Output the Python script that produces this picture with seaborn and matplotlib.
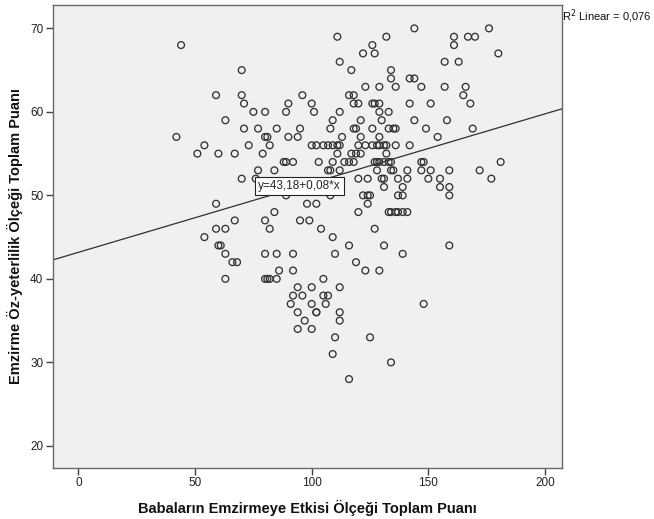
import matplotlib
matplotlib.use("Agg")
import matplotlib.pyplot as plt
import seaborn as sns
import numpy as np
import pandas as pd

# Babaların Emzirmeye Etkisi Ölçeği Toplam Puanı (x) and Emzirme Öz-yeterlilik Ölçeği Toplam Puanı (y)
baba_puani = [
    144, 176,
    111, 132, 161, 167, 170,
    44, 126, 161,
    122, 127, 180,
    112, 157, 163,
    70, 117, 134,
    134, 142, 144,
    123, 129, 136, 147, 157, 166,
    59, 70, 96, 116, 118, 165,
    71, 90, 100, 118, 120, 126, 127, 129, 142, 151, 168,
    75, 80, 89, 101, 112, 129, 133,
    63, 109, 121, 130, 144, 158,
    71, 77, 85, 95, 108, 118, 119, 126, 133, 135, 136, 149, 169,
    42, 80, 81, 90, 94, 113, 121, 129, 154,
    54, 73, 82, 100, 102, 105, 107, 109, 111, 112, 120, 123, 126, 128, 129, 131, 132, 136, 142,
    51, 60, 67, 79, 111, 117, 119, 121, 132,
    88, 89, 92, 103, 109, 114, 116, 118, 127, 128, 129, 131, 133, 134, 147, 148, 181,
    77, 84, 107, 108, 112, 128, 134, 135, 141, 147, 151, 159, 172,
    70, 76, 120, 124, 130, 131, 137, 141, 150, 155, 177,
    131, 139, 155, 159,
    89, 108, 122, 124, 125, 137, 139, 159,
    59, 98, 102, 124,
    84, 120, 133, 134, 136, 137, 139, 141,
    67, 80, 95, 99,
    59, 63, 82, 104, 127,
    54, 109,
    60, 61, 116, 131, 159,
    63, 80, 85, 92, 110, 139,
    66, 68, 119,
    86, 92, 123, 129,
    63, 80, 81, 82, 85, 105,
    94, 100, 112,
    92, 96, 105, 107,
    91, 100, 106, 148,
    94, 102, 102, 112,
    97, 112,
    94, 100,
    110, 125,
    109,
    134,
    116,
]
emzirme_puani = [
    70, 70,
    69, 69, 69, 69, 69,
    68, 68, 68,
    67, 67, 67,
    66, 66, 66,
    65, 65, 65,
    64, 64, 64,
    63, 63, 63, 63, 63, 63,
    62, 62, 62, 62, 62, 62,
    61, 61, 61, 61, 61, 61, 61, 61, 61, 61, 61,
    60, 60, 60, 60, 60, 60, 60,
    59, 59, 59, 59, 59, 59,
    58, 58, 58, 58, 58, 58, 58, 58, 58, 58, 58, 58, 58,
    57, 57, 57, 57, 57, 57, 57, 57, 57,
    56, 56, 56, 56, 56, 56, 56, 56, 56, 56, 56, 56, 56, 56, 56, 56, 56, 56, 56,
    55, 55, 55, 55, 55, 55, 55, 55, 55,
    54, 54, 54, 54, 54, 54, 54, 54, 54, 54, 54, 54, 54, 54, 54, 54, 54,
    53, 53, 53, 53, 53, 53, 53, 53, 53, 53, 53, 53, 53,
    52, 52, 52, 52, 52, 52, 52, 52, 52, 52, 52,
    51, 51, 51, 51,
    50, 50, 50, 50, 50, 50, 50, 50,
    49, 49, 49, 49,
    48, 48, 48, 48, 48, 48, 48, 48,
    47, 47, 47, 47,
    46, 46, 46, 46, 46,
    45, 45,
    44, 44, 44, 44, 44,
    43, 43, 43, 43, 43, 43,
    42, 42, 42,
    41, 41, 41, 41,
    40, 40, 40, 40, 40, 40,
    39, 39, 39,
    38, 38, 38, 38,
    37, 37, 37, 37,
    36, 36, 36, 36,
    35, 35,
    34, 34,
    33, 33,
    31,
    30,
    28,
]

fit_intercept = 43.18
fit_slope = 0.0829
r2_text = "R$^2$ Linear = 0,076"
equation_text = "y=43,18+0,08*x"
x_ticks = [0, 50, 100, 150, 200]
y_ticks = [20, 30, 40, 50, 60, 70]
x_label = "Babaların Emzirmeye Etkisi Ölçeği Toplam Puanı"
y_label = "Emzirme Öz-yeterlilik Ölçeği Toplam Puanı"

df = pd.DataFrame({"x": baba_puani, "y": emzirme_puani})

sns.set_theme(style="white")
plt.rcParams["font.family"] = ["Liberation Sans", "DejaVu Sans"]

fig = plt.figure(figsize=(6.54, 5.19), dpi=100)
ax = fig.add_axes([53 / 654, (519 - 468) / 519, (562 - 53) / 654, (468 - 5) / 519])
ax.set_facecolor("#f0f0f0")

xlim = (-10.9, 207.3)
ylim = (17.35, 72.8)

sns.scatterplot(data=df, x="x", y="y", ax=ax, marker="o", s=24,
                facecolors="none", edgecolors="#333333", linewidth=0.95, zorder=3)

xs = np.array(xlim)
ax.plot(xs, fit_intercept + fit_slope * xs, color="#303030", lw=0.9, zorder=2)

ax.set_xlim(*xlim)
ax.set_ylim(*ylim)
ax.set_xticks(x_ticks)
ax.set_yticks(y_ticks)
ax.tick_params(axis="both", direction="out", length=5, width=1, color="#404040",
               labelsize=8.5, labelcolor="#222222", bottom=True, left=True, pad=2)
ax.tick_params(axis="x", pad=1.5)
for s in ax.spines.values():
    s.set_color("#6a6a6a")
    s.set_linewidth(1.0)

ax.set_xlabel(x_label, fontsize=10.5, fontweight="bold", color="#111111", labelpad=8)
ax.set_ylabel(y_label, fontsize=10.5, fontweight="bold", color="#111111", labelpad=5)

ax.text(77, 51.1, equation_text, fontsize=8.5, va="center", ha="left", zorder=5,
        bbox=dict(boxstyle="square,pad=0.25", fc="white", ec="#222222", lw=0.8))
fig.text(562 / 654, 1 - 16 / 519, r2_text, fontsize=8, ha="left", va="center", color="#111111")

fig.savefig("out.png", dpi=100)
